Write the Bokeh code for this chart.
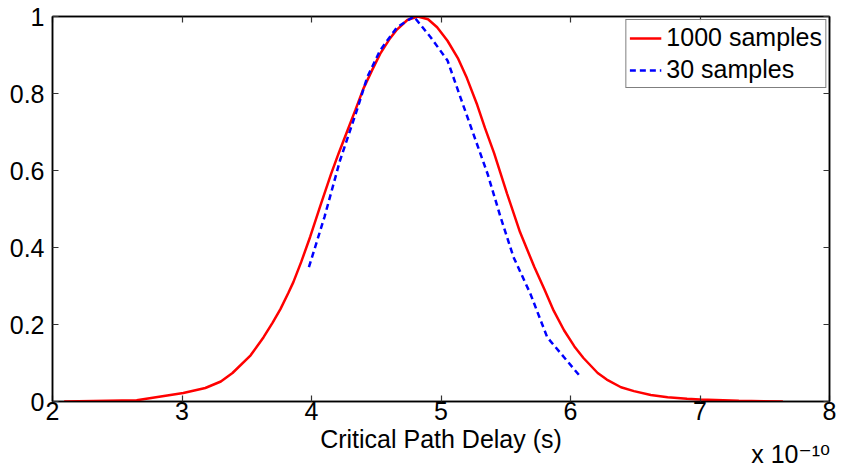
from bokeh.plotting import figure
from bokeh.models import Range1d, LinearAxis, FixedTicker, Legend, LegendItem
from bokeh.embed import file_html
from bokeh.resources import INLINE

# Data (delay in units of 1e-10 s)
x_1000 = [2.09, 2.65, 3.01, 3.18, 3.30, 3.39, 3.53, 3.63, 3.70, 3.76, 3.82, 3.86, 3.92, 3.99, 4.07,
          4.15, 4.21, 4.28, 4.34, 4.40, 4.47, 4.53, 4.60, 4.66, 4.74, 4.82, 4.90, 4.97, 5.05, 5.13,
          5.20, 5.28, 5.34, 5.41, 5.51, 5.61, 5.72, 5.80, 5.87, 5.95, 6.03, 6.10, 6.21, 6.28, 6.39,
          6.49, 6.62, 6.75, 6.90, 7.00, 7.30, 7.64]
y_1000 = [0.0, 0.003, 0.022, 0.035, 0.052, 0.074, 0.12, 0.167, 0.205, 0.240, 0.281, 0.310, 0.362, 0.428, 0.51,
          0.59, 0.645, 0.706, 0.758, 0.812, 0.862, 0.903, 0.94, 0.966, 0.991, 1.0, 0.993, 0.972, 0.937, 0.892,
          0.84, 0.77, 0.71, 0.645, 0.54, 0.44, 0.35, 0.29, 0.236, 0.185, 0.143, 0.113, 0.074, 0.057, 0.037,
          0.027, 0.017, 0.011, 0.007, 0.005, 0.002, 0.0]
x_30 = [3.98, 4.10, 4.22, 4.35, 4.43, 4.53, 4.66, 4.79, 4.92, 5.05, 5.15, 5.25, 5.36, 5.46,
        5.56, 5.69, 5.82, 5.95, 6.08]
y_30 = [0.349, 0.479, 0.626, 0.756, 0.842, 0.912, 0.972, 1.0, 0.946, 0.886, 0.79, 0.695, 0.591, 0.479,
        0.375, 0.28, 0.167, 0.115, 0.063]

x_ticks = [2, 3, 4, 5, 6, 7, 8]
y_ticks = [0, 0.2, 0.4, 0.6, 0.8, 1]
series_labels = ["1000 samples", "30 samples"]
x_title = "Critical Path Delay (s)"
x_multiplier = "x 10\u207b\u00b9\u2070"

FONT = "'Liberation Sans', Arial, 'DejaVu Sans', sans-serif"
FS = "25px"

p = figure(width=841, height=470, output_backend="svg", toolbar_location=None,
           x_range=Range1d(2, 8), y_range=Range1d(0, 1),
           min_border_left=52, min_border_right=12, min_border_top=16, min_border_bottom=69)
p.background_fill_color = "white"
p.border_fill_color = "white"
p.outline_line_color = "black"
p.outline_line_width = 1.5
p.grid.visible = False

r1 = p.line(x_1000, y_1000, line_color="#ff0000", line_width=2.5)
r2 = p.line(x_30, y_30, line_color="#0000ff", line_width=2.5, line_dash="6 4")

def style_axis(ax, labels=True):
    ax.axis_line_color = "black"
    ax.axis_line_width = 1.5
    ax.major_tick_in = 6
    ax.major_tick_out = 0
    ax.major_tick_line_color = "#333333"
    ax.major_tick_line_width = 1.2
    ax.minor_tick_line_color = None
    if labels:
        ax.major_label_text_font = FONT
        ax.major_label_text_font_size = FS
        ax.major_label_text_color = "black"
    else:
        ax.major_label_text_font_size = "0px"
        ax.major_label_text_color = None
        ax.major_label_standoff = 0

xa = p.xaxis[0]
ya = p.yaxis[0]
xa.ticker = FixedTicker(ticks=x_ticks)
ya.ticker = FixedTicker(ticks=y_ticks)
ya.major_label_overrides = {0: "0", 1: "1"}
style_axis(xa)
style_axis(ya)
xa.major_label_standoff = 0
ya.major_label_standoff = 8

# text-only axes below the main one: axis title and the exponent multiplier
def text_axis(tick, label, standoff):
    ax = LinearAxis(ticker=FixedTicker(ticks=[tick]))
    ax.major_label_overrides = {tick: label}
    ax.axis_line_color = None
    ax.major_tick_line_color = None
    ax.minor_tick_line_color = None
    ax.major_tick_in = 0
    ax.major_tick_out = 0
    ax.major_label_text_font = FONT
    ax.major_label_text_font_size = FS
    ax.major_label_text_color = "black"
    ax.major_label_standoff = standoff
    return ax

p.add_layout(text_axis(5, x_title, 2), "below")
p.add_layout(text_axis(7.7, x_multiplier, -16), "below")

ra = LinearAxis(ticker=FixedTicker(ticks=y_ticks))
ta = LinearAxis(ticker=FixedTicker(ticks=x_ticks))
style_axis(ra, labels=False)
style_axis(ta, labels=False)
p.add_layout(ra, "right")
p.add_layout(ta, "above")

legend = Legend(items=[LegendItem(label=series_labels[0], renderers=[r1]),
                       LegendItem(label=series_labels[1], renderers=[r2])],
                location="top_right")
legend.label_text_font = FONT
legend.label_text_font_size = FS
legend.label_text_color = "black"
legend.border_line_color = "black"
legend.border_line_width = 1.5
legend.glyph_width = 32
legend.glyph_height = 28
legend.label_standoff = 5
legend.padding = 3
legend.spacing = 3
legend.margin = 3
legend.label_height = 28
p.add_layout(legend)

open("out.html", "w").write(file_html(p, INLINE))
